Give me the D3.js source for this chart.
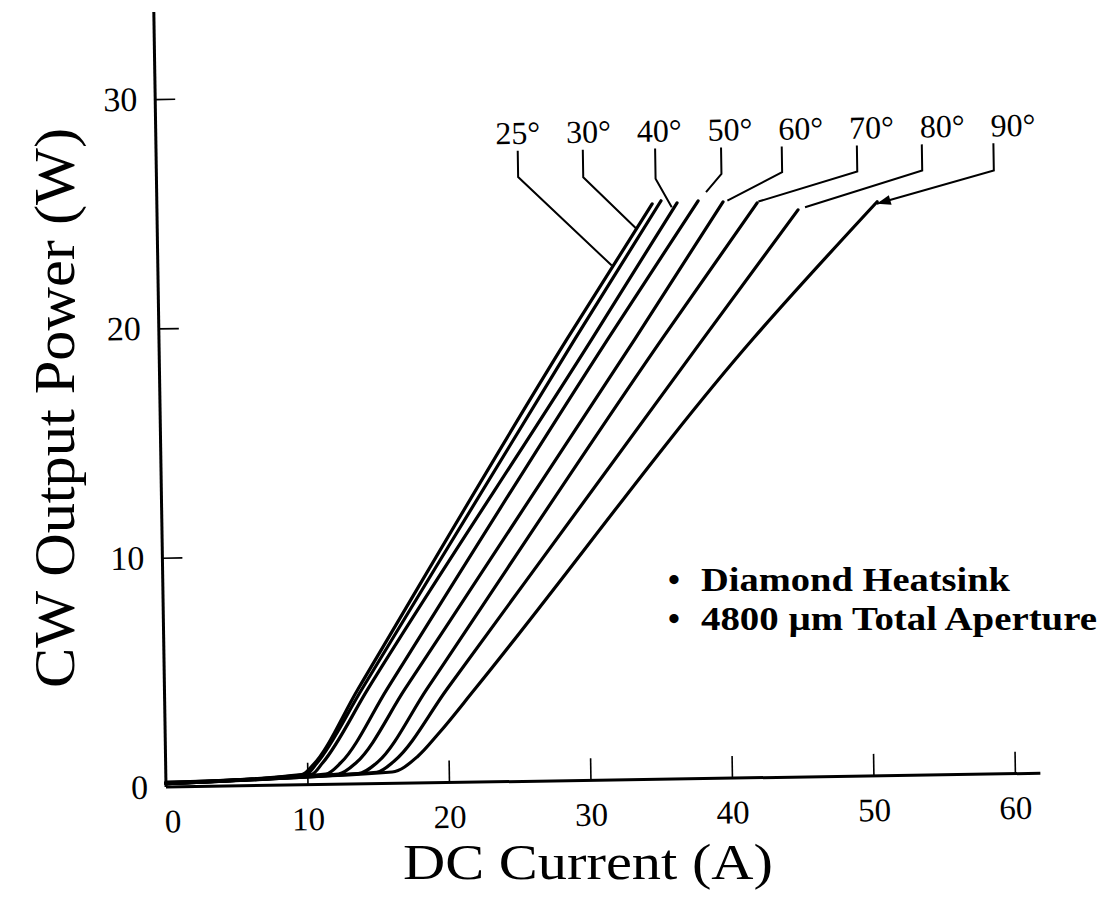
<!DOCTYPE html>
<html>
<head>
<meta charset="utf-8">
<script src="https://cdn.jsdelivr.net/npm/d3@7"></script>
<style>
  body { margin: 0; background: #fff; }
  svg { display: block; }
  text { font-family: "Liberation Serif", "Times New Roman", serif; fill: #000; }
</style>
</head>
<body>
<svg id="chart" width="1114" height="921"></svg>
<script>
// Facet angle of each L-I curve
const angleLabels = ["25°", "30°", "40°", "50°", "60°", "70°", "80°", "90°"];

// DC current (A) and CW output power (W) along each curve
const current25 = [0, 9.6, 10.4, 13.68, 28.84, 35.0];
const power25   = [0.15, 0.45, 0.85, 4.14, 19.26, 25.09];
const current30 = [0, 9.9, 10.7, 13.96, 29.40, 35.63];
const power30   = [0.15, 0.45, 0.95, 4.14, 19.26, 25.22];
const current40 = [0, 10.3, 11.1, 14.38, 30.60, 36.76];
const power40   = [0.15, 0.45, 0.95, 4.14, 19.25, 25.12];
const current50 = [0, 11.3, 12.4, 15.73, 31.73, 38.25];
const power50   = [0.15, 0.45, 0.95, 4.12, 19.24, 25.19];
const current60 = [0, 12.2, 13.5, 17.0, 33.64, 40.01];
const power60   = [0.15, 0.45, 0.95, 4.11, 19.22, 25.13];
const current70 = [0, 13.6, 15.0, 18.55, 35.55, 42.42];
const power70   = [0.18, 0.45, 0.95, 4.10, 19.20, 25.06];
const current80 = [0, 14.9, 16.2, 19.97, 38.45, 45.30];
const power80   = [0.2, 0.5, 1.0, 4.08, 19.17, 24.73];
const current90 = [0, 16.0, 17.8, 19.4, 21.94, 41.98, 50.9];
const power90   = [0.2, 0.5, 1.15, 2.2, 4.06, 19.14, 25.03];

const seriesCurrent = [current25, current30, current40, current50, current60, current70, current80, current90];
const seriesPower   = [power25, power30, power40, power50, power60, power70, power80, power90];

// Axis ticks
const xTicks = [0, 10, 20, 30, 40, 50, 60];
const yTicks = [0, 10, 20, 30];

// Callouts: label position (A), leader vertical (A), elbow (W), end point on curve (A, W)
const labelCurrent     = [24, 29, 34, 39, 44, 49, 54, 59];
const leaderTopCurrent = [25.56, 30.16, 35.27, 39.93, 44.22, 49.53, 54.12, 59.18];
const leaderElbowPower = [26.35, 26.30, 26.18, 26.35, 26.39, 26.36, 26.36, 26.31];
const leaderEndCurrent = [32.08, 33.88, 36.38, 38.82, 40.32, 42.51, 45.80, 50.87];
const leaderEndPower   = [22.43, 24.01, 24.93, 25.57, 25.18, 25.12, 24.84, 24.94];
const labelPower = 27.8;
const leaderTopPower = 27.5;

const notes = ["Diamond Heatsink", "4800 \u00b5m Total Aperture"];
const noteWidths = [309, 396];

const svg = d3.select("#chart");

const x = d3.scaleLinear().domain([0, 60]).range([166, 1015]);
const y = d3.scaleLinear().domain([0, 30]).range([787, 99]);

// The plot sits slightly tilted on the page
const plot = svg.append("g")
  .attr("transform", `rotate(-0.9, ${x(0)}, ${y(0)})`);

// Axis lines
plot.append("line")
  .attr("x1", x(0)).attr("x2", x(61.8))
  .attr("y1", y(0)).attr("y2", y(0))
  .attr("stroke", "#000").attr("stroke-width", 3);
plot.append("line")
  .attr("x1", x(0)).attr("x2", x(0))
  .attr("y1", y(0)).attr("y2", y(33.8))
  .attr("stroke", "#000").attr("stroke-width", 3);

// X axis: inward ticks with labels below
const xAxis = d3.axisBottom(x)
  .tickValues(xTicks)
  .tickFormat(d3.format("d"))
  .tickSizeInner(-22)
  .tickSizeOuter(0)
  .tickPadding(22);
const gx = plot.append("g").attr("transform", `translate(0, ${y(0)})`).call(xAxis);
gx.select(".domain").remove();
gx.selectAll(".tick line").attr("stroke", "#000").attr("stroke-width", 1.6)
  .filter(d => d === 0).remove();
gx.selectAll(".tick text")
  .attr("font-family", "Liberation Serif, serif")
  .attr("font-size", 33)
  .attr("fill", "#000")
  .attr("dy", "0.71em")
  .attr("dx", d => d === 0 ? 6 : 0);

// Y axis: inward ticks with labels to the left
const yAxis = d3.axisLeft(y)
  .tickValues(yTicks)
  .tickFormat(d3.format("d"))
  .tickSizeInner(-20)
  .tickSizeOuter(0)
  .tickPadding(18);
const gy = plot.append("g").attr("transform", `translate(${x(0)}, 0)`).call(yAxis);
gy.select(".domain").remove();
gy.selectAll(".tick line").attr("stroke", "#000").attr("stroke-width", 1.6)
  .filter(d => d === 0).remove();
gy.selectAll(".tick text")
  .attr("font-family", "Liberation Serif, serif")
  .attr("font-size", 34)
  .attr("fill", "#000");

// L-I curves
const line = d3.line()
  .x(d => x(d[0]))
  .y(d => y(d[1]))
  .curve(d3.curveMonotoneX);

const curves = seriesCurrent.map((cs, i) => cs.map((c, j) => [c, seriesPower[i][j]]));
plot.append("g").selectAll("path")
  .data(curves)
  .join("path")
  .attr("d", line)
  .attr("fill", "none")
  .attr("stroke", "#000")
  .attr("stroke-width", 3.2)
  .attr("stroke-linejoin", "round")
  .attr("stroke-linecap", "round");

// Callout leaders
const leaders = angleLabels.map((_, i) => [
  [leaderTopCurrent[i], leaderTopPower],
  [leaderTopCurrent[i], leaderElbowPower[i]],
  [leaderEndCurrent[i], leaderEndPower[i]]
]);
const straight = d3.line().x(d => x(d[0])).y(d => y(d[1]));
plot.append("g").selectAll("path")
  .data(leaders)
  .join("path")
  .attr("d", straight)
  .attr("fill", "none")
  .attr("stroke", "#000")
  .attr("stroke-width", 2);

// Arrowhead on the last leader
{
  const i = angleLabels.length - 1;
  const ex = x(leaderEndCurrent[i]), ey = y(leaderEndPower[i]);
  const sx = x(leaderTopCurrent[i]), sy = y(leaderElbowPower[i]);
  const ang = Math.atan2(ey - sy, ex - sx) * 180 / Math.PI;
  plot.append("path")
    .attr("d", "M0,0 L-14,-5 L-14,5 Z")
    .attr("transform", `translate(${ex},${ey}) rotate(${ang})`)
    .attr("fill", "#000");
}

// Callout labels
plot.append("g").selectAll("text")
  .data(angleLabels)
  .join("text")
  .attr("x", (d, i) => x(labelCurrent[i]))
  .attr("y", y(labelPower))
  .attr("font-size", 32)
  .text(d => d);

// Notes: bulleted lines set in bold
const noteG = svg.append("g").attr("font-size", 34).attr("font-weight", "bold");
notes.forEach((t, i) => {
  const by = 591 + i * 39;
  noteG.append("text").attr("x", 668).attr("y", by).text("\u2022");
  noteG.append("text").attr("x", 701).attr("y", by)
    .attr("textLength", noteWidths[i])
    .attr("lengthAdjust", "spacingAndGlyphs")
    .text(t);
});

// Axis titles
svg.append("text")
  .attr("x", 588).attr("y", 879)
  .attr("text-anchor", "middle")
  .attr("font-size", 50)
  .attr("textLength", 370)
  .attr("lengthAdjust", "spacingAndGlyphs")
  .text("DC Current (A)");
svg.append("text")
  .attr("transform", "translate(74, 408) rotate(-90)")
  .attr("text-anchor", "middle")
  .attr("font-size", 56)
  .attr("textLength", 560)
  .attr("lengthAdjust", "spacingAndGlyphs")
  .text("CW Output Power (W)");
</script>
</body>
</html>
